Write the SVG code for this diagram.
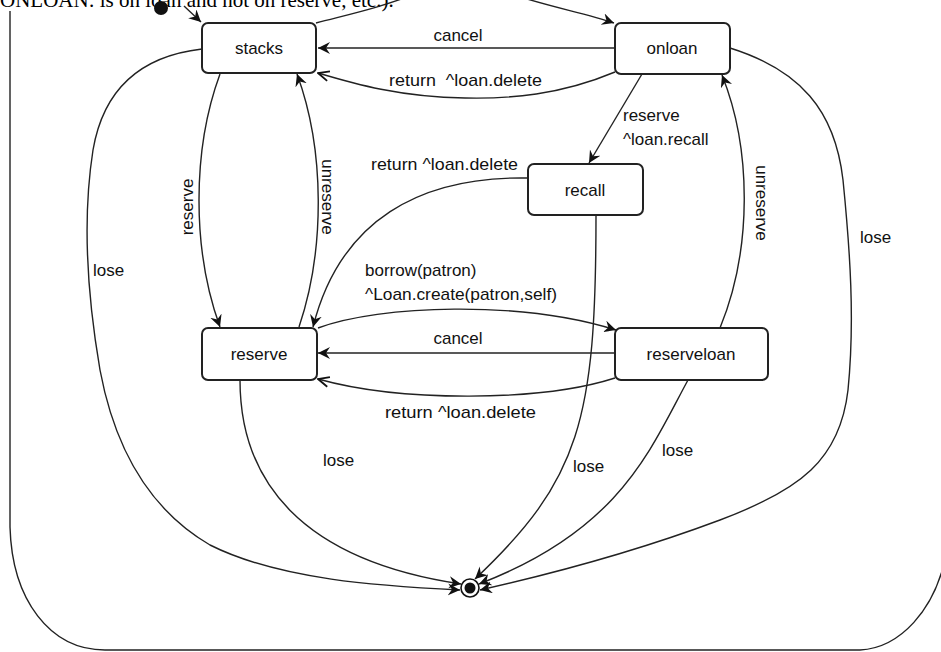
<svg xmlns="http://www.w3.org/2000/svg" width="941" height="652" viewBox="0 0 941 652">
  <style>
    .state rect { fill: #ffffff; stroke: #222222; stroke-width: 2; }
    .state text, .lbl { font-family: "Liberation Sans", Arial, sans-serif; font-size: 17px; fill: #111111; }
    .state text { text-anchor: middle; }
    .edge { fill: none; stroke: #222222; stroke-width: 1.4; }
    .page { font-family: "Liberation Serif", "Times New Roman", serif; font-size: 21px; fill: #000000; }
  </style>
  <defs>
    <marker id="head" markerUnits="userSpaceOnUse" markerWidth="13" markerHeight="13" refX="12" refY="6" orient="auto">
      <path d="M0,0 L12,6 L0,12 L4,6 z" fill="#111111"/>
    </marker>
    <marker id="headOpen" markerUnits="userSpaceOnUse" markerWidth="13" markerHeight="13" refX="12" refY="6" orient="auto">
      <path d="M1,1 L12,6 L1,11" fill="none" stroke="#111111" stroke-width="1.8"/>
    </marker>
  </defs>

  <rect x="0" y="0" width="941" height="652" fill="#ffffff"/>

  <!-- running text of the page above the chart -->
  <text class="page" x="0" y="7">ONLOAN: is on loan and not on reserve, etc.).</text>

  <!-- enclosing frame -->
  <path class="edge" d="M10,11 L10,527 C 12,600 50,650 105,650 L 860,650 C 900,648 935,610 946,555"/>

  <!-- pseudo states -->
  <g id="initial">
    <circle cx="161" cy="8" r="7" fill="#111111"/>
  </g>
  <g id="final">
    <circle cx="470" cy="588" r="9" fill="#ffffff" stroke="#111111" stroke-width="1.6"/>
    <circle cx="470" cy="588" r="5.5" fill="#111111"/>
  </g>

  <!-- transitions -->
  <g id="connectors">
    <path class="edge" marker-end="url(#head)" d="M184,6 L201,22"/>
    <path class="edge" marker-end="url(#head)" d="M316,23 C 350,14 380,8 420,-8 L 505,-8 C 545,6 585,13 614,23"/>
    <path class="edge" marker-end="url(#head)" d="M615,48 L318,48"/>
    <path class="edge" marker-end="url(#headOpen)" d="M615,72 C 560,95 510,99 465,98 C 400,97 355,84 318,73"/>
    <path class="edge" marker-end="url(#head)" d="M642,74 L589,163"/>
    <path class="edge" marker-end="url(#head)" d="M528,178 C 420,176 340,220 313,327"/>
    <path class="edge" marker-end="url(#head)" d="M299,327 C 325,250 325,150 297,74"/>
    <path class="edge" marker-end="url(#head)" d="M220,74 C 192,150 192,250 220,327"/>
    <path class="edge" marker-end="url(#head)" d="M318,328 C 380,305 520,300 616,330"/>
    <path class="edge" marker-end="url(#head)" d="M615,353 L318,353"/>
    <path class="edge" marker-end="url(#headOpen)" d="M615,378 C 540,402 400,402 318,379"/>
    <path class="edge" marker-end="url(#head)" d="M720,328 C 752,250 752,150 722,75"/>
    <path class="edge" marker-end="url(#head)" d="M202,49 C 150,55 105,80 93,150 C 82,220 88,300 100,370 C 115,450 150,510 210,545 C 280,580 380,586 460,590"/>
    <path class="edge" marker-end="url(#head)" d="M240,380 C 240,480 300,560 461,584"/>
    <path class="edge" marker-end="url(#head)" d="M596,215 C 596,420 580,480 475,579"/>
    <path class="edge" marker-end="url(#head)" d="M688,380 C 650,450 620,530 479,584"/>
    <path class="edge" marker-end="url(#head)" d="M730,48 C 800,70 835,110 843,180 C 850,250 855,320 848,390 C 840,460 800,490 720,520 C 640,550 560,572 480,590"/>
  </g>

  <!-- transition labels -->
  <g id="labels">
    <text class="lbl" x="458" y="41" text-anchor="middle">cancel</text>
    <text class="lbl" x="389" y="86" textLength="153" lengthAdjust="spacingAndGlyphs" xml:space="preserve">return  ^loan.delete</text>
    <text class="lbl" x="623" y="121">reserve</text>
    <text class="lbl" x="623" y="145">^loan.recall</text>
    <text class="lbl" x="371" y="170" textLength="147" lengthAdjust="spacingAndGlyphs">return ^loan.delete</text>
    <text class="lbl" transform="translate(322,197) rotate(90)" text-anchor="middle">unreserve</text>
    <text class="lbl" transform="translate(193,207) rotate(-90)" text-anchor="middle">reserve</text>
    <text class="lbl" transform="translate(756,203) rotate(90)" text-anchor="middle">unreserve</text>
    <text class="lbl" x="93" y="276">lose</text>
    <text class="lbl" x="365" y="276">borrow(patron)</text>
    <text class="lbl" x="365" y="300" textLength="192" lengthAdjust="spacingAndGlyphs">^Loan.create(patron,self)</text>
    <text class="lbl" x="458" y="344" text-anchor="middle">cancel</text>
    <text class="lbl" x="385" y="418" textLength="151" lengthAdjust="spacingAndGlyphs">return ^loan.delete</text>
    <text class="lbl" x="323" y="466">lose</text>
    <text class="lbl" x="573" y="472">lose</text>
    <text class="lbl" x="662" y="456">lose</text>
    <text class="lbl" x="860" y="243">lose</text>
  </g>

  <!-- states -->
  <g id="stacks" class="state">
    <rect x="202" y="23" width="114" height="50" rx="6"/>
    <text x="259" y="54">stacks</text>
  </g>
  <g id="onloan" class="state">
    <rect x="615" y="23" width="115" height="51" rx="6"/>
    <text x="672" y="54">onloan</text>
  </g>
  <g id="recall" class="state">
    <rect x="528" y="164" width="115" height="51" rx="6"/>
    <text x="585" y="196">recall</text>
  </g>
  <g id="reserve" class="state">
    <rect x="202" y="328" width="115" height="52" rx="6"/>
    <text x="259" y="360">reserve</text>
  </g>
  <g id="reserveloan" class="state">
    <rect x="615" y="328" width="153" height="52" rx="6"/>
    <text x="691" y="360">reserveloan</text>
  </g>
</svg>
